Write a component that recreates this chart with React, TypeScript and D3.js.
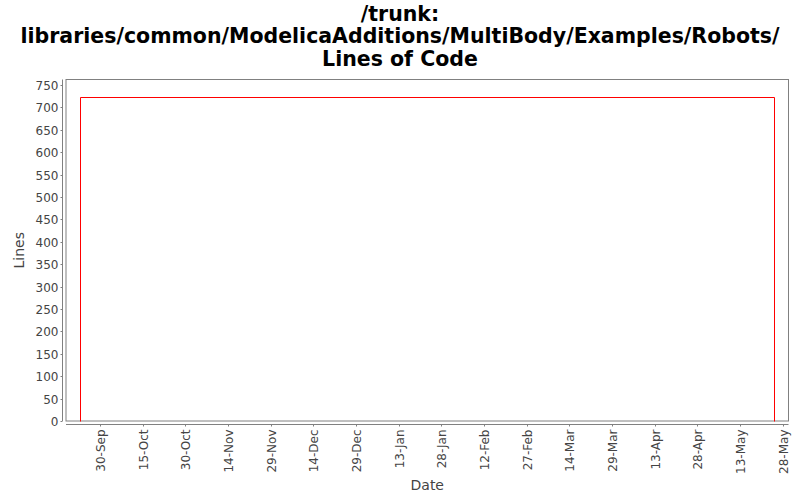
import React, { useEffect, useRef } from 'react';
import * as d3 from 'd3';

// chart values
const titleLines = ['/trunk:', 'libraries/common/ModelicaAdditions/MultiBody/Examples/Robots/', 'Lines of Code'];
const locDates = ['2006-09-23', '2006-09-23', '2007-05-25'];
const locValues = [0, 724, 0];
const xDomain = ['2006-09-18', '2007-05-30'];
const yTicks = [0, 50, 100, 150, 200, 250, 300, 350, 400, 450, 500, 550, 600, 650, 700, 750];
const xTickDates = [
  '2006-09-30', '2006-10-15', '2006-10-30', '2006-11-14', '2006-11-29', '2006-12-14',
  '2006-12-29', '2007-01-13', '2007-01-28', '2007-02-12', '2007-02-27', '2007-03-14',
  '2007-03-29', '2007-04-13', '2007-04-28', '2007-05-13', '2007-05-28'
];

const W = 800;
const H = 500;
const plot = { left: 66, right: 788.5, top: 79.5, bottom: 421 };
const font = '"DejaVu Sans", sans-serif';

const App = () => {
  const svgRef = useRef<SVGSVGElement>(null);

  useEffect(() => {
    if (!svgRef.current) return;
    const svg = d3.select(svgRef.current);
    svg.selectAll('*').remove();

    const parse = d3.utcParse('%Y-%m-%d');
    const x = d3.scaleUtc()
      .domain(xDomain.map(d => parse(d) as Date))
      .range([plot.left, plot.right]);
    const y = d3.scaleLinear()
      .domain([0, 762.5])
      .range([plot.bottom, plot.top]);

    svg.append('rect').attr('width', W).attr('height', H).attr('fill', '#fff');

    // title
    svg.append('text')
      .attr('x', W / 2)
      .attr('text-anchor', 'middle')
      .style('font-family', font)
      .style('font-weight', 'bold')
      .style('font-size', '20.5px')
      .selectAll('tspan')
      .data(titleLines)
      .join('tspan')
      .attr('x', W / 2)
      .attr('y', (_, i) => 20.5 + i * 22.5)
      .text(d => d);

    // plot box
    svg.append('rect')
      .attr('x', plot.left)
      .attr('y', plot.top)
      .attr('width', plot.right - plot.left)
      .attr('height', plot.bottom - plot.top)
      .attr('fill', '#fff')
      .attr('stroke', '#808080')
      .attr('stroke-width', 1);

    // y axis
    const yAxisX = plot.left - 3.5;
    const yg = svg.append('g');
    yg.append('line')
      .attr('x1', yAxisX).attr('x2', yAxisX)
      .attr('y1', plot.top).attr('y2', plot.bottom)
      .attr('stroke', '#808080');
    yTicks.forEach(t => {
      const ty = Math.round(y(t)) + 0.5;
      yg.append('line')
        .attr('x1', yAxisX - 2).attr('x2', yAxisX)
        .attr('y1', ty).attr('y2', ty)
        .attr('stroke', '#808080');
      yg.append('text')
        .attr('x', yAxisX - 4)
        .attr('y', ty)
        .attr('dy', '0.35em')
        .attr('text-anchor', 'end')
        .style('font-family', font)
        .style('font-size', '12px')
        .attr('fill', '#444')
        .text(t);
    });

    // x axis
    const xAxisY = plot.bottom + 3.5;
    const xg = svg.append('g');
    xg.append('line')
      .attr('x1', plot.left).attr('x2', plot.right)
      .attr('y1', xAxisY).attr('y2', xAxisY)
      .attr('stroke', '#808080');
    const fmt = d3.utcFormat('%-d-%b');
    xTickDates.forEach(s => {
      const d = parse(s) as Date;
      const tx = Math.round(x(d)) + 0.5;
      xg.append('line')
        .attr('x1', tx).attr('x2', tx)
        .attr('y1', xAxisY).attr('y2', xAxisY + 2)
        .attr('stroke', '#808080');
      xg.append('text')
        .attr('transform', `translate(${tx},${xAxisY + 5}) rotate(-90)`)
        .attr('dy', '0.35em')
        .attr('text-anchor', 'end')
        .style('font-family', font)
        .style('font-size', '12px')
        .attr('fill', '#444')
        .text(fmt(d));
    });

    // axis labels
    svg.append('text')
      .attr('transform', `translate(24,${(plot.top + plot.bottom) / 2}) rotate(-90)`)
      .attr('text-anchor', 'middle')
      .style('font-family', font)
      .style('font-size', '14px')
      .attr('fill', '#444')
      .text('Lines');
    svg.append('text')
      .attr('x', (plot.left + plot.right) / 2)
      .attr('y', 490)
      .attr('text-anchor', 'middle')
      .style('font-family', font)
      .style('font-size', '14px')
      .attr('fill', '#444')
      .text('Date');

    // LOC step line
    const pts = locDates.map((s, i) => [x(parse(s) as Date), y(locValues[i])] as [number, number]);
    const line = d3.line<[number, number]>()
      .x(d => Math.round(d[0]) + 0.5)
      .y(d => Math.round(d[1]) + 0.5)
      .curve(d3.curveStepAfter);
    svg.append('path')
      .attr('d', line(pts))
      .attr('fill', 'none')
      .attr('stroke', '#ff0000')
      .attr('stroke-width', 1);
  }, []);

  return (
    <svg
      ref={svgRef}
      width={W}
      height={H}
      style={{ position: 'absolute', left: 0, top: 0, display: 'block' }}
    />
  );
};

export default App;
